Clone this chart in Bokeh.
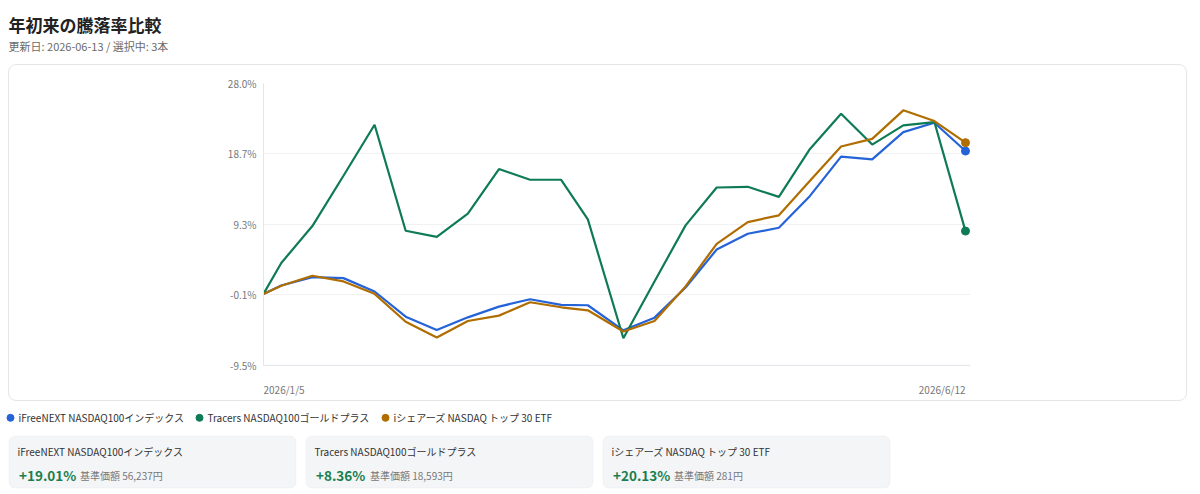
import pandas as pd
from bokeh.plotting import figure
from bokeh.models import Range1d, FixedTicker, Span, BoxAnnotation
from bokeh.core.properties import value
from bokeh.embed import file_html
from bokeh.resources import INLINE

FONT = "Noto Sans CJK JP"

# ---------------- data ----------------
title_text = "年初来の騰落率比較"
subtitle_text = "更新日: 2026-06-13 / 選択中: 3本"

dates = ["2026-01-05", "2026-01-09", "2026-01-16", "2026-01-23", "2026-01-30",
         "2026-02-06", "2026-02-13", "2026-02-20", "2026-02-27", "2026-03-06",
         "2026-03-13", "2026-03-19", "2026-03-27", "2026-04-03", "2026-04-10",
         "2026-04-17", "2026-04-24", "2026-05-01", "2026-05-08", "2026-05-15",
         "2026-05-22", "2026-05-29", "2026-06-05", "2026-06-12"]

series_names = ["iFreeNEXT NASDAQ100インデックス",
                "Tracers NASDAQ100ゴールドプラス",
                "iシェアーズ NASDAQ トップ 30 ETF"]

ifree_returns = [0.0, 1.12, 2.24, 2.10, 0.32, -3.03, -4.81, -3.12, -1.69, -0.71,
                 -1.46, -1.51, -4.85, -3.16, 0.86, 5.90, 8.00, 8.80, 13.04, 18.27,
                 17.91, 21.53, 22.78, 19.01]
tracers_returns = [0.0, 4.12, 9.03, 15.72, 22.51, 8.40, 7.60, 10.68, 16.62, 15.19,
                   15.19, 9.92, -5.90, 1.66, 9.12, 14.16, 14.25, 12.91, 19.29, 23.98,
                   19.87, 22.42, 22.87, 8.36]
ishares_returns = [0.0, 1.08, 2.42, 1.66, 0.01, -3.70, -5.79, -3.61, -2.89, -1.11,
                   -1.78, -2.18, -5.00, -3.61, 0.99, 6.66, 9.56, 10.46, 15.05, 19.61,
                   20.63, 24.43, 23.00, 20.13]

base_prices = [56237, 18593, 281]
price_label = "基準価額"

series_colors = ["#2563d9", "#0f7b55", "#b06d00"]

y_ticks = [-9.5, -0.125, 9.25, 18.625, 28.0]
y_tick_labels = ["-9.5%", "-0.1%", "9.3%", "18.7%", "28.0%"]
x_tick_labels = ["2026/1/5", "2026/6/12"]

all_series = [ifree_returns, tracers_returns, ishares_returns]
x = pd.to_datetime(dates)

# ---------------- header ----------------
header = figure(width=1200, height=64, x_range=Range1d(0, 1200), y_range=Range1d(64, 0),
                output_backend="svg", toolbar_location=None,
                x_axis_location=None, y_axis_location=None, min_border=0)
header.grid.visible = False
header.outline_line_color = None
header.text(x=[8], y=[24], text=[title_text], text_font=value(FONT),
            text_font_size="17px", text_font_style="bold", text_color="#222222",
            text_baseline="middle", text_align="left")
header.text(x=[8], y=[45.5], text=[subtitle_text], text_font=value(FONT),
            text_font_size="11px", text_color="#6b6b6b",
            text_baseline="middle", text_align="left")

# ---------------- chart ----------------
plot_w, plot_h = 700, 280            # pixel size of the data area (ticks -9.5 .. 28)
label_px = 32                        # extra frame space below for the date labels
span_days = (x[-1] - x[0]).days
pad = pd.Timedelta(days=5 * span_days / plot_w)   # keeps end markers unclipped
units_per_px = (y_ticks[-1] - y_ticks[0]) / plot_h
y_low = y_ticks[0] - label_px * units_per_px

chart = figure(width=1177, height=335, x_axis_type="datetime",
               x_range=Range1d(x[0], x[-1] + pad), y_range=Range1d(y_low, y_ticks[-1]),
               output_backend="svg", toolbar_location=None, x_axis_location=None,
               min_border_left=254, min_border_right=1177 - 254 - plot_w - 5,
               min_border_top=18, min_border_bottom=335 - 18 - plot_h - label_px)
chart.outline_line_color = None
chart.border_fill_alpha = 0
chart.styles = {"border": "1px solid #e6e6e6", "border-radius": "8px",
                "overflow": "hidden", "margin-left": "8px", "box-sizing": "content-box"}

chart.yaxis.ticker = FixedTicker(ticks=y_ticks)
chart.yaxis.bounds = (y_ticks[0], y_ticks[-1])
chart.yaxis.major_label_overrides = {t: l for t, l in zip(y_ticks, y_tick_labels)}
chart.yaxis.major_label_text_font = FONT
chart.yaxis.major_label_text_font_size = "10px"
chart.yaxis.major_label_text_color = "#777777"
chart.yaxis.major_tick_line_color = None
chart.yaxis.minor_tick_line_color = None
chart.yaxis.major_tick_out = 0
chart.yaxis.major_tick_in = 0
chart.yaxis.major_label_standoff = 7
chart.yaxis.axis_line_color = "#e6e6ea"

chart.xgrid.visible = False
chart.ygrid.grid_line_color = "#f1f1f1"
chart.add_layout(Span(location=y_ticks[0], dimension="width",
                      line_color="#e3e5ea", line_width=1))

for vals, col in zip(all_series, series_colors):
    chart.line(x, vals, line_color=col, line_width=2.2)
    chart.scatter([x[-1]], [vals[-1]], size=8, fill_color=col, line_color=col)

date_label_y = y_ticks[0] - 24 * units_per_px
chart.text(x=[x[0]], y=[date_label_y], text=[x_tick_labels[0]], text_align="left",
           text_baseline="middle", text_font=value(FONT), text_font_size="10px",
           text_color="#777777")
chart.text(x=[x[-1]], y=[date_label_y], text=[x_tick_labels[-1]], text_align="right",
           text_baseline="middle", text_font=value(FONT), text_font_size="10px",
           text_color="#777777")

# ---------------- legend + cards ----------------
bottom = figure(width=1200, height=93, x_range=Range1d(0, 1200), y_range=Range1d(494, 401),
                output_backend="svg", toolbar_location=None,
                x_axis_location=None, y_axis_location=None, min_border=0)
bottom.grid.visible = False
bottom.outline_line_color = None

legend_dot_x = [10, 199, 385]
legend_text_x = [18, 207, 393]
bottom.scatter(legend_dot_x, [417.3] * 3, size=7, fill_color=series_colors, line_color=series_colors)
bottom.text(x=legend_text_x, y=[417.3] * 3, text=series_names, text_font=value(FONT),
            text_font_size="10px", text_color="#333333", text_baseline="middle")

card_left = [8.5, 305.5, 602.5]
card_w = 287
price_x_off = [71, 64, 71]
for i, (name, vals, price) in enumerate(zip(series_names, all_series, base_prices)):
    l = card_left[i]
    bottom.add_layout(BoxAnnotation(left=l, right=l + card_w, top=435.5, bottom=487.5,
                                    fill_color="#f4f5f7", fill_alpha=1,
                                    line_color="#e3e5e8", line_width=1, border_radius=6,
                                    level="underlay"))
    bottom.text(x=[l + 8.5], y=[450.7], text=[name], text_font=value(FONT),
                text_font_size="10px", text_color="#333333", text_baseline="middle")
    bottom.text(x=[l + 10], y=[474.5], text=[f"+{vals[-1]:.2f}%"], text_font=value(FONT),
                text_font_size="13.5px", text_font_style="bold", text_color="#1a7f4e",
                text_baseline="alphabetic")
    bottom.text(x=[l + price_x_off[i]], y=[474.5], text=[f"{price_label} {price:,}円"],
                text_font=value(FONT), text_font_size="10px", text_color="#777777",
                text_baseline="alphabetic")

open("out.html", "w").write(file_html([header, chart, bottom], INLINE))
